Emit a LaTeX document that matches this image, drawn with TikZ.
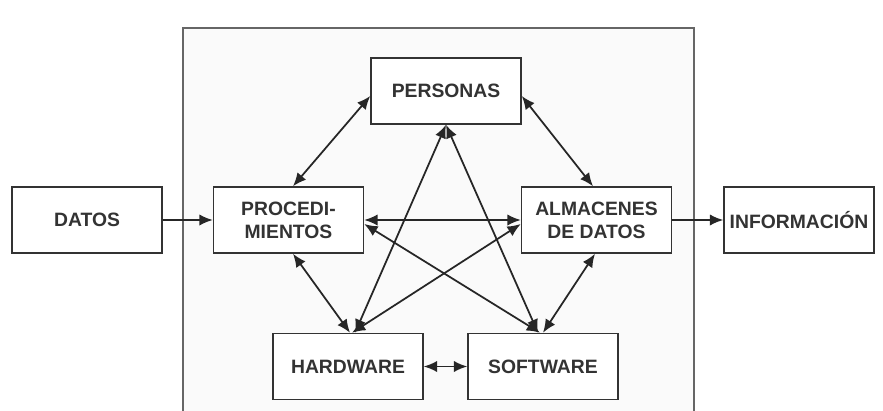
\documentclass[tikz,border=0pt]{standalone}
\usepackage{fontspec}
\setmainfont{Liberation Sans}
\usetikzlibrary{arrows.meta,calc}
\begin{document}
\begin{tikzpicture}[x=0.03cm,y=-0.03cm,
  box/.style={draw=black!80, line width=1.3pt, fill=white, minimum width=4.5cm, minimum height=1.98cm, inner sep=0pt, align=center, font=\fontsize{16.5}{19.5}\selectfont\bfseries, text=black!80},
  tip/.tip={Latex[length=4mm,width=3.4mm]},
  link/.style={line width=1.5pt, draw=black!85, tip-tip},
  one/.style={line width=1.5pt, draw=black!85, -tip}]
\useasboundingbox (0,0) rectangle (883,410);
\clip (0,0) rectangle (883,410);
\draw[fill=black!2, draw=black!60, line width=1pt] (183,28) rectangle (694,440);
\node[box] (datos) at (87,220) {DATOS};
\node[box] (proc) at (288.5,220) {PROCEDI-\\MIENTOS};
\node[box] (alm) at (596.5,220) {ALMACENES\\DE DATOS};
\node[box] (info) at (799,220) {INFORMACIÓN};
\node[box] (pers) at (446,91) {PERSONAS};
\node[box] (hw) at (348,366.5) {HARDWARE};
\node[box] (sw) at (543,366.5) {SOFTWARE};
\draw[one] (datos) -- (proc);
\draw[one] (alm) -- (info);
\draw[link] ($(proc.north)+(4.5,0)$) -- ($(pers.west)+(0,5)$);
\draw[link] ($(pers.east)+(0,5)$) -- ($(alm.north)+(-3.5,0)$);
\draw[link] (proc.east) -- (alm.west);
\draw[link] ($(proc.south)+(4.5,0)$) -- ($(hw.north)+(2,0)$);
\draw[link] ($(alm.south)+(-1.5,0)$) -- ($(sw.north)+(0,0)$);
\draw[link] (hw) -- (sw);
\draw[link] ($(hw.north)+(7,0)$) -- (pers.south);
\draw[link] ($(sw.north)+(-5,0)$) -- (pers.south);
\draw[link] ($(hw.north)+(4,0)$) -- ($(alm.west)+(0,4)$);
\draw[link] ($(sw.north)+(-3,0)$) -- ($(proc.east)+(0,4)$);
\end{tikzpicture}
\end{document}
